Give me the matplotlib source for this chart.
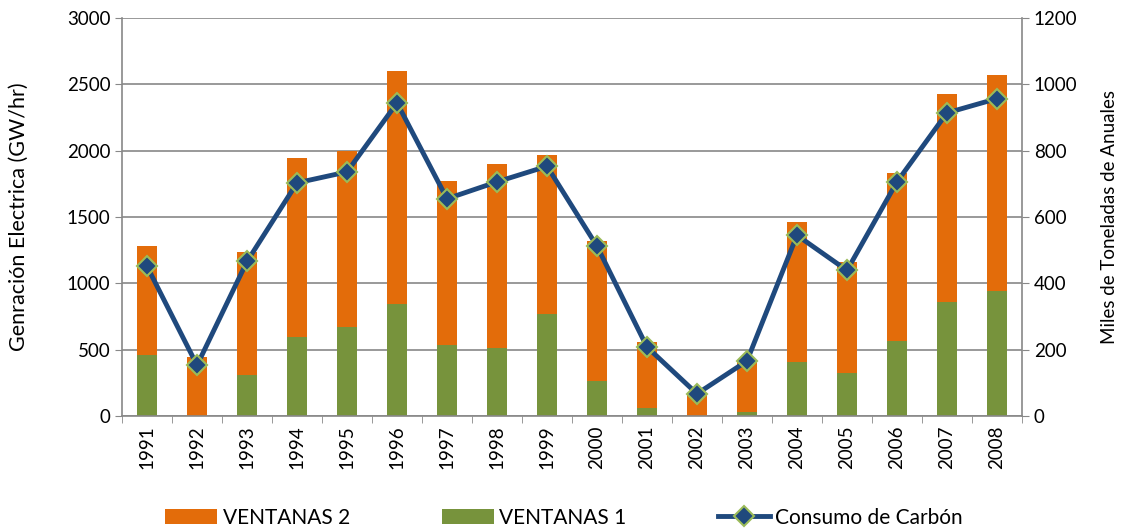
import matplotlib.pyplot as plt
import numpy as np

plt.rcParams['font.family'] = ['Lato', 'DejaVu Sans']

# datos
anios = ['1991', '1992', '1993', '1994', '1995', '1996', '1997', '1998', '1999',
         '2000', '2001', '2002', '2003', '2004', '2005', '2006', '2007', '2008']
ventanas1 = [457, 0, 309, 595, 671, 847, 535, 515, 771,
             266, 63, 0, 30, 410, 324, 565, 862, 940]
total = [1279, 442, 1236, 1945, 1995, 2601, 1769, 1902, 1970,
         1317, 555, 173, 425, 1462, 1161, 1834, 2430, 2570]
ventanas2 = [t - v for t, v in zip(total, ventanas1)]
carbon = [451, 153, 466, 703, 736, 944, 655, 706, 753,
          512, 208, 67, 166, 545, 439, 706, 914, 957]

gris = '#888888'
fig = plt.figure(figsize=(11.28, 5.28), dpi=100)
ax = fig.add_axes([0.1082, 0.2121, 0.7978, 0.7538])
x = np.arange(len(anios))

b2 = ax.bar(x, ventanas2, 0.4, bottom=ventanas1, color='#E36C0A', zorder=2, label='VENTANAS 2')
b1 = ax.bar(x, ventanas1, 0.4, color='#77933C', zorder=2, label='VENTANAS 1')

ax.set_ylim(0, 3000)
ax.set_yticks(range(0, 3001, 500))
ax.set_xlim(-0.5, len(anios) - 0.5)
ax.set_xticks(x)
ax.set_xticklabels(anios, rotation=90, fontsize=13.5)
ax.set_xticks(np.arange(-0.5, len(anios), 1), minor=True)
ax.tick_params(axis='x', which='major', length=0, pad=7)
ax.tick_params(axis='x', which='minor', length=5, color=gris)
ax.tick_params(axis='y', labelsize=13.5, length=5, color=gris)
ax.grid(axis='y', color=gris, linewidth=1.2, zorder=0)
ax.set_axisbelow(True)
for s in ['top', 'right']:
    ax.spines[s].set_visible(False)
for s in ['left', 'bottom']:
    ax.spines[s].set_color(gris)
    ax.spines[s].set_linewidth(1.2)
ax.set_ylabel('Genración Electrica (GW/hr)', fontsize=15.5, labelpad=27)

ax2 = ax.twinx()
ln, = ax2.plot(x, carbon, color='#1F497D', linewidth=3.5, marker='D', markersize=10,
               markerfacecolor='#1F497D', markeredgecolor='#9BBB59', markeredgewidth=1.5,
               zorder=3, label='Consumo de Carbón')
ax2.set_ylim(0, 1200)
ax2.set_yticks(range(0, 1201, 200))
ax2.tick_params(axis='y', labelsize=13.5, length=5, color=gris)
for s in ['top', 'left', 'bottom']:
    ax2.spines[s].set_visible(False)
ax2.spines['right'].set_color(gris)
ax2.spines['right'].set_linewidth(1.2)
ax2.set_ylabel('Miles de Toneladas de Anuales', fontsize=13.5, labelpad=17)

fig.legend(handles=[b2, b1, ln], loc='lower center', ncol=3, frameon=False,
           fontsize=15, bbox_to_anchor=(0.5, -0.035), handlelength=2.5,
           handleheight=0.8, columnspacing=4.4, handletextpad=0.25)

plt.savefig('out.png')
